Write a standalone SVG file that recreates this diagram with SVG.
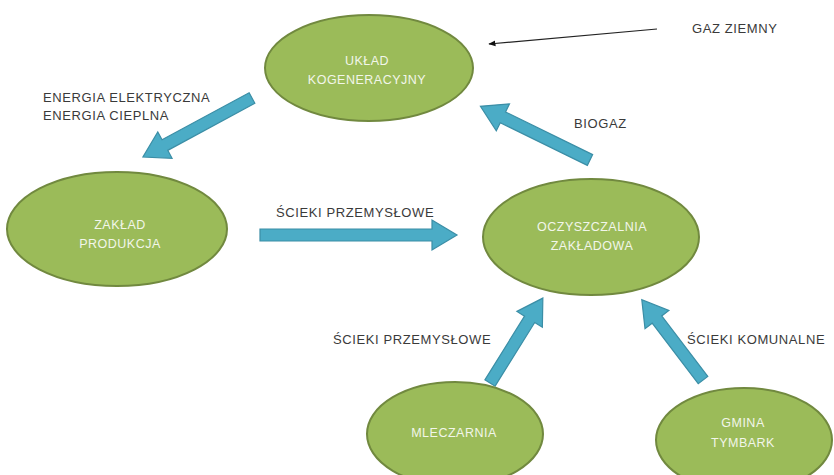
<svg xmlns="http://www.w3.org/2000/svg" width="834" height="475" viewBox="0 0 834 475">
<defs>
<style>
.node ellipse{fill:#9bbb59;stroke:#71893f;stroke-width:2}
.node text{fill:#f2f6ea;font-family:"Liberation Sans","Open Sans",sans-serif;font-size:12.5px;letter-spacing:0.5px;text-anchor:middle}
.lbl{fill:#3a3a3a;font-family:"Liberation Sans","Open Sans",sans-serif;font-size:13px;letter-spacing:0.6px}
.blk{fill:#4bacc6;stroke:#3b8ea6;stroke-width:1.2}
</style>
<marker id="ah" viewBox="0 0 10 10" refX="9" refY="5" markerWidth="6" markerHeight="6" orient="auto"><path d="M0,1 L10,5 L0,9 z" fill="#111"/></marker>
</defs>
<rect width="834" height="475" fill="#ffffff"/>
<g id="connectors">
<polygon class="blk" transform="translate(252,98) rotate(151.6)" points="0,-6 99,-6 99,-15 124,0 99,15 99,6 0,6"/>
<polygon class="blk" transform="translate(260,235)" points="0,-6 172,-6 172,-15 197,0 172,15 172,6 0,6"/>
<polygon class="blk" transform="translate(590,160) rotate(-153.9)" points="0,-6 97,-6 97,-15 122,0 97,15 97,6 0,6"/>
<polygon class="blk" transform="translate(490,383) rotate(-58.1)" points="0,-6 75,-6 75,-15 100,0 75,15 75,6 0,6"/>
<polygon class="blk" transform="translate(703,380) rotate(-127.3)" points="0,-6 76,-6 76,-15 101,0 76,15 76,6 0,6"/>
<path d="M657,29 L489,44" stroke="#222" stroke-width="1.2" fill="none" marker-end="url(#ah)"/>
</g>
<g id="n-uklad" class="node"><ellipse cx="369" cy="68" rx="104" ry="53"/><text x="367" y="65">UKŁAD</text><text x="367" y="84">KOGENERACYJNY</text></g>
<g id="n-zaklad" class="node"><ellipse cx="117" cy="229" rx="110" ry="57"/><text x="120" y="229">ZAKŁAD</text><text x="120" y="248">PRODUKCJA</text></g>
<g id="n-oczyszczalnia" class="node"><ellipse cx="591" cy="237" rx="108" ry="58"/><text x="592" y="231">OCZYSZCZALNIA</text><text x="592" y="250">ZAKŁADOWA</text></g>
<g id="n-mleczarnia" class="node"><ellipse cx="455" cy="434" rx="88" ry="52"/><text x="454" y="437">MLECZARNIA</text></g>
<g id="n-gmina" class="node"><ellipse cx="744" cy="440" rx="88" ry="52"/><text x="743" y="427">GMINA</text><text x="743" y="447">TYMBARK</text></g>
<g id="labels">
<text class="lbl" x="692" y="33">GAZ ZIEMNY</text>
<text class="lbl" x="574" y="128">BIOGAZ</text>
<text class="lbl" x="43" y="102">ENERGIA ELEKTRYCZNA</text>
<text class="lbl" x="43" y="120">ENERGIA CIEPLNA</text>
<text class="lbl" x="276" y="217">ŚCIEKI PRZEMYSŁOWE</text>
<text class="lbl" x="333" y="344">ŚCIEKI PRZEMYSŁOWE</text>
<text class="lbl" x="687" y="344">ŚCIEKI KOMUNALNE</text>
</g>
</svg>
